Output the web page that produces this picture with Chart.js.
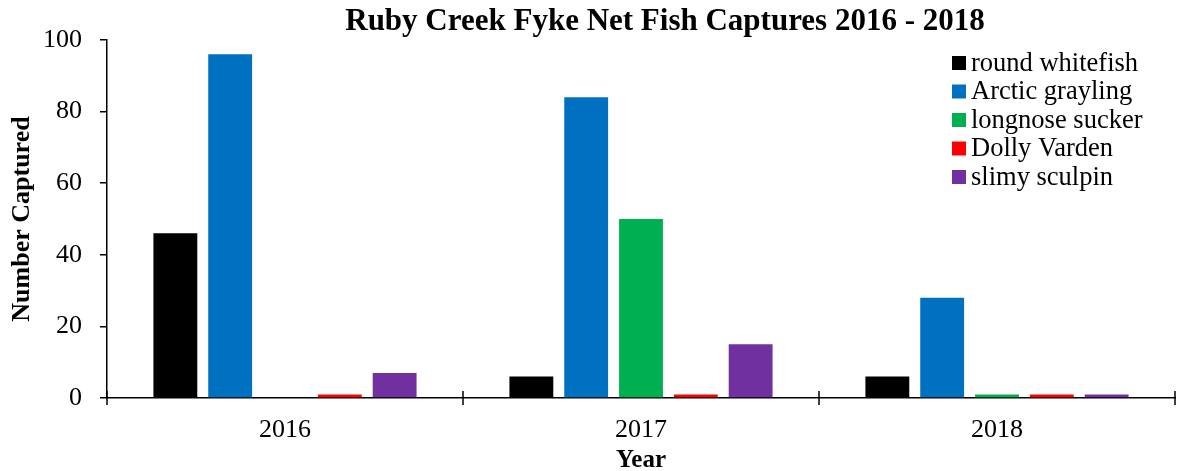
<!DOCTYPE html>
<html>
<head>
<meta charset="utf-8">
<script src="https://cdn.jsdelivr.net/npm/chart.js@4"></script>
<style>
  html, body { margin: 0; padding: 0; background: #fff; }
  canvas { display: block; }
</style>
</head>
<body>
<canvas id="fishChart" width="1178" height="471"></canvas>
<script>
const years = ["2016", "2017", "2018"];
const species = ["round whitefish", "Arctic grayling", "longnose sucker", "Dolly Varden", "slimy sculpin"];
const colors = ["#000000", "#0070C0", "#00B050", "#FF0000", "#7030A0"];

const roundWhitefish = [46, 6, 6];
const arcticGrayling = [96, 84, 28];
const longnoseSucker = [0, 50, 1];
const dollyVarden = [1, 1, 1];
const slimySculpin = [7, 15, 1];

const yTicks = [0, 20, 40, 60, 80, 100];

const seriesValues = [roundWhitefish, arcticGrayling, longnoseSucker, dollyVarden, slimySculpin];
const serif = "'Liberation Serif', 'Times New Roman', serif";

// title + legend drawn by hand so they sit where the original has them
const extras = {
  id: "extras",
  afterDraw(chart) {
    const ctx = chart.ctx;
    const area = chart.chartArea;
    ctx.save();
    ctx.fillStyle = "#000";
    ctx.font = "bold 31px " + serif;
    ctx.textAlign = "center";
    ctx.textBaseline = "middle";
    ctx.fillText("Ruby Creek Fyke Net Fish Captures 2016 - 2018", 665, 22);

    // legend
    ctx.font = "26.5px " + serif;
    ctx.textAlign = "left";
    chart.data.datasets.forEach((ds, i) => {
      const y = 63 + i * 28.5;
      ctx.fillStyle = ds.backgroundColor;
      ctx.fillRect(952, y - 7, 14, 14);
      ctx.fillStyle = "#000";
      ctx.fillText(ds.label, 971, y + 1);
    });

    // category tick marks crossing the x axis
    ctx.strokeStyle = "#000";
    ctx.lineWidth = 1.5;
    for (let i = 0; i <= years.length; i++) {
      const x = Math.round(area.left + (area.right - area.left) * i / years.length);
      ctx.beginPath();
      ctx.moveTo(x, area.bottom - 7);
      ctx.lineTo(x, area.bottom + 7);
      ctx.stroke();
    }
    ctx.restore();
  }
};

new Chart(document.getElementById("fishChart"), {
  type: "bar",
  data: {
    labels: years,
    datasets: species.map((name, i) => ({
      label: name,
      data: seriesValues[i],
      backgroundColor: colors[i],
      borderWidth: 0,
      categoryPercentage: 0.77,
      barPercentage: 0.8
    }))
  },
  options: {
    responsive: false,
    animation: false,
    devicePixelRatio: 1,
    layout: { padding: { left: 0, right: 3, top: 40, bottom: 0 } },
    plugins: {
      legend: { display: false },
      title: { display: false },
      tooltip: { enabled: false }
    },
    scales: {
      x: {
        afterFit: s => { s.height = 73; },
        grid: { drawOnChartArea: false, drawTicks: false, color: "#000" },
        border: { display: true, color: "#000", width: 1.5 },
        ticks: { color: "#000", font: { family: serif, size: 26 }, padding: 17 },
        title: {
          display: true, text: "Year", color: "#000",
          font: { family: serif, size: 25, weight: "bold", lineHeight: 0.85 },
          padding: { top: 0, bottom: 0 }
        }
      },
      y: {
        min: 0,
        max: 100,
        afterFit: s => { s.width = 107; },
        afterBuildTicks: s => { s.ticks = yTicks.map(v => ({ value: v })); },
        grid: { drawOnChartArea: false, drawTicks: true, tickLength: 7, color: "#000", lineWidth: 1.5 },
        border: { display: true, color: "#000", width: 1.5 },
        ticks: { color: "#000", font: { family: serif, size: 26 }, padding: 18 },
        title: {
          display: true, text: "Number Captured", color: "#000",
          font: { family: serif, size: 26, weight: "bold" },
          padding: { top: 7, bottom: 0 }
        }
      }
    }
  },
  plugins: [extras]
});
</script>
</body>
</html>
